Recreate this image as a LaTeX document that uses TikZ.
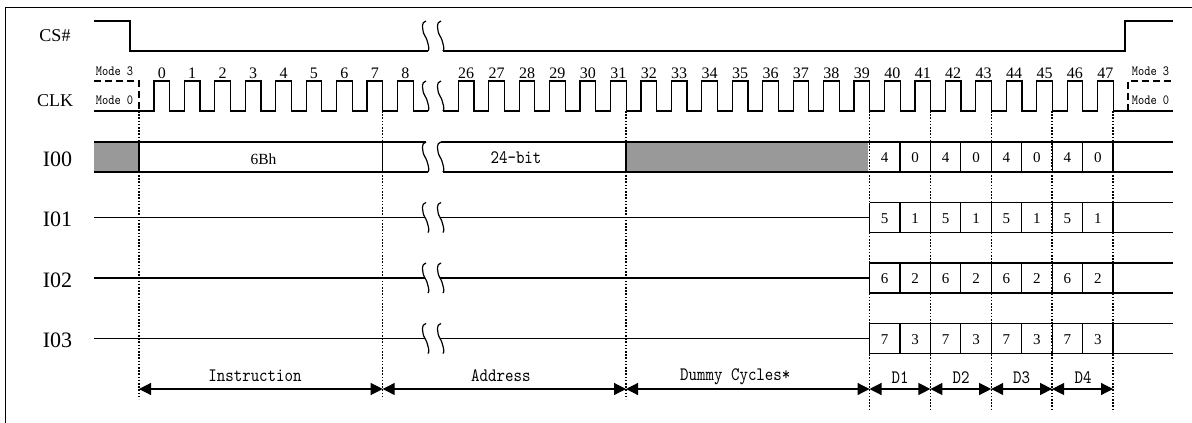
\documentclass[tikz,border=0pt]{standalone}
\usepackage{fontspec}
\setmainfont{Liberation Serif}
\newfontfamily\monof{lmmono10-regular.otf}[FakeStretch=0.85]
\usetikzlibrary{arrows.meta}
\definecolor{busgray}{RGB}{153,153,153}
\newcommand\squig[3]{\draw[sig] ({#1+1},{#2-#3}) .. controls ({#1-4},{#2-#3}) and ({#1-3},{#2-0.3*#3}) .. ({#1},{#2}) .. controls ({#1+3},{#2+0.3*#3}) and ({#1+5},{#2+#3}) .. ({#1+3},{#2+#3});}
\begin{document}
\begin{tikzpicture}[x=1pt,y=-1pt,
 sig/.style={line width=1.2pt, line join=miter},
 dotv/.style={line width=1.3pt, dash pattern=on 1.6pt off 1.6pt},
 modedash/.style={line width=1.2pt, dash pattern=on 7pt off 4pt},
 dim/.style={line width=1.2pt, {Triangle[length=12pt,width=12pt]}-{Triangle[length=12pt,width=12pt]}},
 lbl/.style={font=\fontsize{18}{18}\selectfont, anchor=base, inner sep=0},
 iolbl/.style={font=\fontsize{22}{22}\selectfont, anchor=base, inner sep=0},
 num/.style={font=\fontsize{16}{16}\selectfont, anchor=base, inner sep=0},
 cell/.style={font=\fontsize{15}{15}\selectfont, anchor=base, inner sep=0},
 mono/.style={font=\monof\fontsize{19}{19}\selectfont, anchor=base, inner sep=0},
 modetxt/.style={font=\monof\fontsize{14}{14}\selectfont, anchor=base, inner sep=0},
]
\useasboundingbox (0,0) rectangle (1192,423);
% frame
\draw[line width=1pt] (1192,7) -- (5,7) -- (5,423);

% labels
\node[lbl] (cs) at (55,41.7) {CS\#};
\node[lbl] (clk) at (55,106) {CLK};
\foreach \r/\yc in {0/157,1/217.5,2/278,3/338.5}
  \node[iolbl] (io\r) at (57.5,{\yc+9}) {I0\r};

% CS#
\draw[sig] (94,21) -- (130,21) -- (130,51) -- (428,51);
\squig{425}{36}{15}\squig{440}{36}{15}
\draw[sig] (443,51) -- (1125,51) -- (1125,21) -- (1173,21);

% CLK
\draw[sig] (94,111) \foreach \k in {0,...,8} { -- ({153.9+30.44*\k},111) -- ({153.9+30.44*\k},81) -- ({169.6+30.44*\k},81) -- ({169.6+30.44*\k},111) } -- (428,111);
\squig{425}{96}{15}\squig{440}{96}{15}
\draw[sig] (443,111) \foreach \k in {0,...,21} { -- ({458.3+30.44*\k},111) -- ({458.3+30.44*\k},81) -- ({474+30.44*\k},81) -- ({474+30.44*\k},111) } -- (1173,111);
\draw[modedash] (94,81) -- (139,81) -- (139,111);
\draw[modedash] (1128,111) -- (1128,81) -- (1173,81);
\node[modetxt] (m3l) at (114.5,75) {Mode 3};
\node[modetxt] (m0l) at (114.5,104.5) {Mode 0};
\node[modetxt] (m3r) at (1150.5,75) {Mode 3};
\node[modetxt] (m0r) at (1150.5,104.5) {Mode 0};
\foreach \k in {0,...,8} \node[num] (n\k) at ({161.75+30.44*\k},78) {\k};
\foreach \n in {26,...,47} \node[num] (n\n) at ({466.15+30.44*(\n-26)},78) {\n};

% IO0
\fill[busgray] (94,142) rectangle (139,172);
\fill[busgray] (626,142) rectangle (868,172);
\draw[sig] (94,142) -- (426,142);
\draw[sig] (94,172) -- (428,172);
\squig{425}{157}{15}\squig{440}{157}{15}
\draw[sig] (441,142) -- (1173,142);
\draw[sig] (443,172) -- (1173,172);
\foreach \x in {139,382.7,626} \draw[sig] (\x,142) -- (\x,172);
\foreach \j in {1,...,8} \draw[sig] ({869.5+30.44*\j},142) -- ({869.5+30.44*\j},172);
\node[cell, font=\fontsize{15.5}{15.5}\selectfont] (b6) at (263.5,164.5) {6Bh};
\node[mono] (b24) at (516,163.5) {24-bit};

% IO1..IO3
\foreach \yc in {217.5,278,338.5} {
  \draw[sig] (94,\yc) -- (425,\yc);
  \squig{425}{\yc}{15}\squig{440}{\yc}{15}
  \draw[sig] (440,\yc) -- (869.5,\yc);
  \draw[sig] (869.5,{\yc-15}) -- (1173,{\yc-15});
  \draw[sig] (869.5,{\yc+15}) -- (1173,{\yc+15});
  \foreach \j in {0,...,8} \draw[sig] ({869.5+30.44*\j},{\yc-15}) -- ({869.5+30.44*\j},{\yc+15});
}
% cell values
\foreach \r/\yc in {0/157,1/217.5,2/278,3/338.5} \foreach \j in {0,...,7} {
  \pgfmathtruncatemacro\v{\r+4*(1-mod(\j,2))}
  \node[cell] (c\r\j) at ({884.7+30.44*\j},{\yc+5.5}) {\v};
}

% dotted guides
\foreach \x in {139,382.7,626} \draw[dotv] (\x,111) -- (\x,399);
\foreach \x in {869.5,930.4,991.2,1052.1,1113} \draw[dotv] (\x,111) -- (\x,410);

% dimension arrows
\coordinate (a0) at (139,389);
\coordinate (a1) at (382.7,389);
\coordinate (a2) at (626,389);
\coordinate (a3) at (869.5,389);
\coordinate (a4) at (930.4,389);
\coordinate (a5) at (991.2,389);
\coordinate (a6) at (1052.1,389);
\coordinate (a7) at (1113,389);
\draw[dim] (a0) -- (a1);
\draw[dim] (a1) -- (a2);
\draw[dim] (a2) -- (a3);
\draw[dim] (a3) -- (a4);
\draw[dim] (a4) -- (a5);
\draw[dim] (a5) -- (a6);
\draw[dim] (a6) -- (a7);
\node[mono] (tins) at (255,381) {Instruction};
\node[mono] (tadr) at (500.8,381) {Address};
\node[mono] (tdum) at (735.3,380) {Dummy Cycles*};
\node[mono] (td1) at (900,383) {D1};
\node[mono] (td2) at (961,383) {D2};
\node[mono] (td3) at (1021.7,383) {D3};
\node[mono] (td4) at (1083,383) {D4};
\end{tikzpicture}
\end{document}
